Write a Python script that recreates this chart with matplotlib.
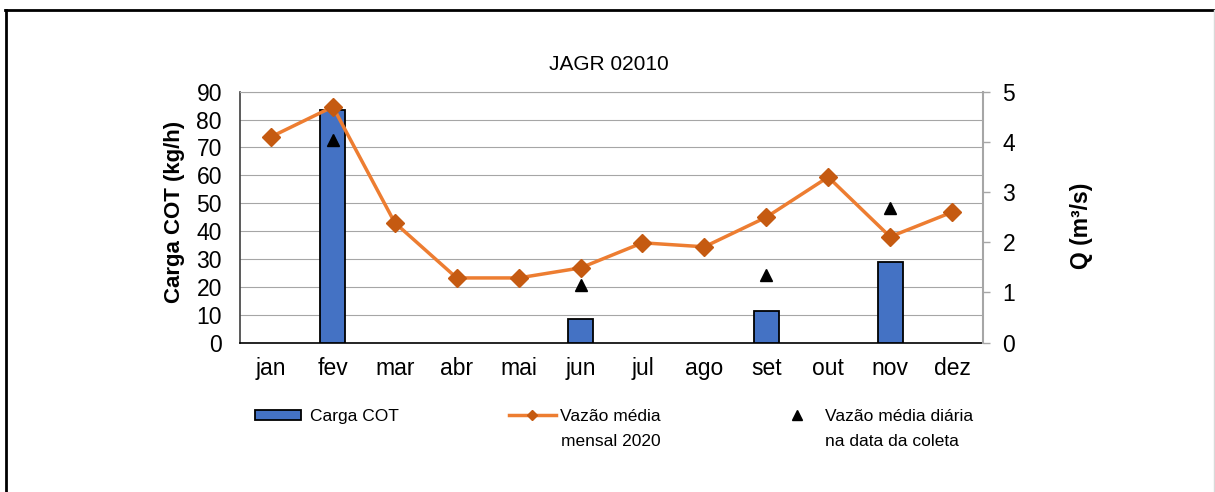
import matplotlib
matplotlib.use('Agg')
import matplotlib.pyplot as plt
from matplotlib.lines import Line2D
from matplotlib.patches import Patch
import numpy as np

plt.rcParams['font.family'] = ['Liberation Sans', 'DejaVu Sans']

# ---- data ----
meses = ['jan', 'fev', 'mar', 'abr', 'mai', 'jun', 'jul', 'ago', 'set', 'out', 'nov', 'dez']
carga_meses = ['fev', 'jun', 'set', 'nov']
carga_cot = [83.4, 8.4, 11.4, 29.0]
vazao_mensal = [4.10, 4.70, 2.39, 1.29, 1.29, 1.49, 1.99, 1.91, 2.50, 3.30, 2.11, 2.60]
coleta_meses = ['fev', 'jun', 'set', 'nov']
vazao_diaria = [4.04, 1.15, 1.35, 2.68]
left_ticks = list(range(0, 91, 10))
right_ticks = list(range(0, 6))

W, H = 1215, 492
fig = plt.figure(figsize=(W / 100, H / 100), dpi=100)
ax = fig.add_axes([240 / W, 1 - 342.7 / H, (983 - 240) / W, (342.7 - 91.7) / H])

x = np.arange(len(meses))
xc = [meses.index(m) for m in carga_meses]
xd = [meses.index(m) for m in coleta_meses]

ax.bar(xc, carga_cot, width=0.4, color='#4472C4', edgecolor='black', linewidth=1.3, zorder=3)
ax.set_xlim(-0.5, len(meses) - 0.5)
ax.set_ylim(0, 90)
ax.set_yticks(left_ticks)
ax.set_xticks(x)
ax.set_xticklabels(meses)
ax.tick_params(axis='x', length=0, pad=10, labelsize=16.5)
ax.tick_params(axis='y', length=0, pad=13, labelsize=16.5)
ax.yaxis.grid(True, color='#A6A6A6', lw=0.8)
ax.set_axisbelow(True)
ax.spines['right'].set_visible(False)
ax.spines['top'].set_color('#A6A6A6')
ax.spines['top'].set_linewidth(0.8)
ax.spines['left'].set_color('#404040')
ax.spines['left'].set_linewidth(1.2)
ax.spines['bottom'].set_color('black')
ax.spines['bottom'].set_linewidth(1.2)

ax2 = ax.twinx()
ax2.plot(x, vazao_mensal, color='#ED7D31', lw=2.5, marker='D', ms=8.7,
         mfc='#C55A11', mec='#C55A11', zorder=4)
ax2.plot(xd, vazao_diaria, ls='none', marker='^', ms=9, color='black', zorder=5)
ax2.set_ylim(0, 5)
ax2.set_yticks(right_ticks)
ax2.tick_params(axis='y', length=5, width=1, color='#A6A6A6', pad=9, labelsize=16.5)
for s in ['left', 'top', 'bottom']:
    ax2.spines[s].set_visible(False)
ax2.spines['right'].set_color('#A6A6A6')
ax2.spines['right'].set_linewidth(1.5)

# axis labels and title
fig.text(174.3 / W, 1 - 212 / H, 'Carga COT (kg/h)', rotation=90, ha='center', va='center',
         fontsize=16, fontweight='bold')
fig.text(1081.7 / W, 1 - 226 / H, 'Q (m³/s)', rotation=90, ha='center', va='center',
         fontsize=16.5, fontweight='bold')
fig.text(608.5 / W, 1 - 64.5 / H, 'JAGR 02010', ha='center', va='center', fontsize=15)

# legends
fs = 12.5
row1 = 1 - 416.5 / H
row2 = 1 - 442 / H
h1 = Patch(facecolor='#4472C4', edgecolor='black', lw=1.3)
fig.legend(handles=[h1], labels=['Carga COT'], loc='center left', bbox_to_anchor=(255 / W, row1),
           frameon=False, fontsize=fs, handlelength=2.64, handleheight=0.55, handletextpad=0.5,
           borderpad=0, borderaxespad=0)
h2 = Line2D([], [], color='#ED7D31', lw=2.5, marker='D', ms=5, mfc='#C55A11', mec='#C55A11')
fig.legend(handles=[h2], labels=['Vazão média'], loc='center left', bbox_to_anchor=(509 / W, row1),
           frameon=False, fontsize=fs, handlelength=2.7, handletextpad=0.25,
           borderpad=0, borderaxespad=0)
fig.text(561 / W, row2, 'mensal 2020', ha='left', va='center', fontsize=fs)
h3 = Line2D([], [], ls='none', marker='^', color='black', ms=6.5)
fig.legend(handles=[h3], labels=['Vazão média diária'], loc='center left',
           bbox_to_anchor=(779.6 / W, row1), frameon=False, fontsize=fs, handlelength=2.0,
           handletextpad=0.6, borderpad=0, borderaxespad=0)
fig.text(825 / W, row2, 'na data da coleta', ha='left', va='center', fontsize=fs)

# outer border
fig.add_artist(Line2D([5 / W, 1], [1 - 9.5 / H] * 2, color='black', lw=2, transform=fig.transFigure))
fig.add_artist(Line2D([6 / W] * 2, [0, 1 - 9.5 / H], color='black', lw=2, transform=fig.transFigure))
fig.add_artist(Line2D([1213.5 / W] * 2, [0, 1 - 9.5 / H], color='#D9D9D9', lw=1, transform=fig.transFigure))

fig.savefig('out.png', dpi=100)
